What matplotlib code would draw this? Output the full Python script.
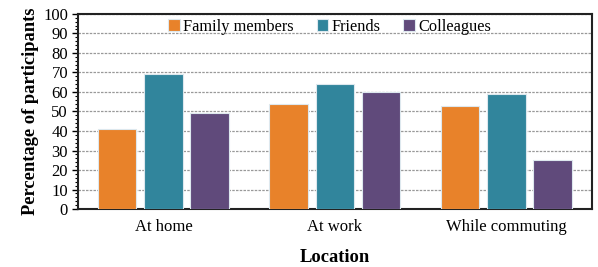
import matplotlib
matplotlib.use("Agg")
import matplotlib.pyplot as plt
import numpy as np
from matplotlib.ticker import MultipleLocator

plt.rcParams['font.family'] = ['Liberation Serif', 'DejaVu Serif']

locations = ["At home", "At work", "While commuting"]
series_names = ["Family members", "Friends", "Colleagues"]
family = [41, 54, 53]
friends = [69, 64, 59]
colleagues = [49, 60, 25]
colors = ["#E8822A", "#31859C", "#604A7B"]

fig = plt.figure(figsize=(5.98, 2.67), dpi=100)
ax = fig.add_axes([0.130, 0.217, 0.860, 0.731])

x = np.arange(len(locations))
w = 0.225
offs = [-0.27, 0, 0.27]
for vals, name, c, o in zip([family, friends, colleagues], series_names, colors, offs):
    ax.bar(x + o, vals, w, color=c, edgecolor="#dde8ee", linewidth=0.8, label=name, zorder=3)

ax.set_xlim(-0.5, 2.5)
ax.set_ylim(0, 100)
ax.yaxis.set_major_locator(MultipleLocator(10))
ax.yaxis.set_minor_locator(MultipleLocator(2))
ax.grid(axis="y", linestyle=(0, (2, 1)), color="#999999", linewidth=0.9, zorder=0)
ax.set_xticks(x)
ax.set_xticklabels(locations, fontsize=12)
ax.tick_params(axis="x", length=0, pad=7)
ax.tick_params(axis="y", which="major", length=4, width=1, labelsize=12, pad=3)
ax.tick_params(axis="y", which="minor", length=2.5, width=0.8)
for s in ax.spines.values():
    s.set_linewidth(1.5)
    s.set_color("#222222")

ax.set_ylabel("Percentage of participants", fontsize=13.3, fontweight="bold", labelpad=3)
ax.set_xlabel("Location", fontsize=13.3, fontweight="bold", labelpad=10)

ax.legend(loc="upper center", ncol=3, frameon=False, fontsize=11.8, handlelength=0.7,
          handleheight=0.7, handletextpad=0.2, columnspacing=1.4,
          bbox_to_anchor=(0.49, 1.05))

fig.savefig("out.png", dpi=100)
